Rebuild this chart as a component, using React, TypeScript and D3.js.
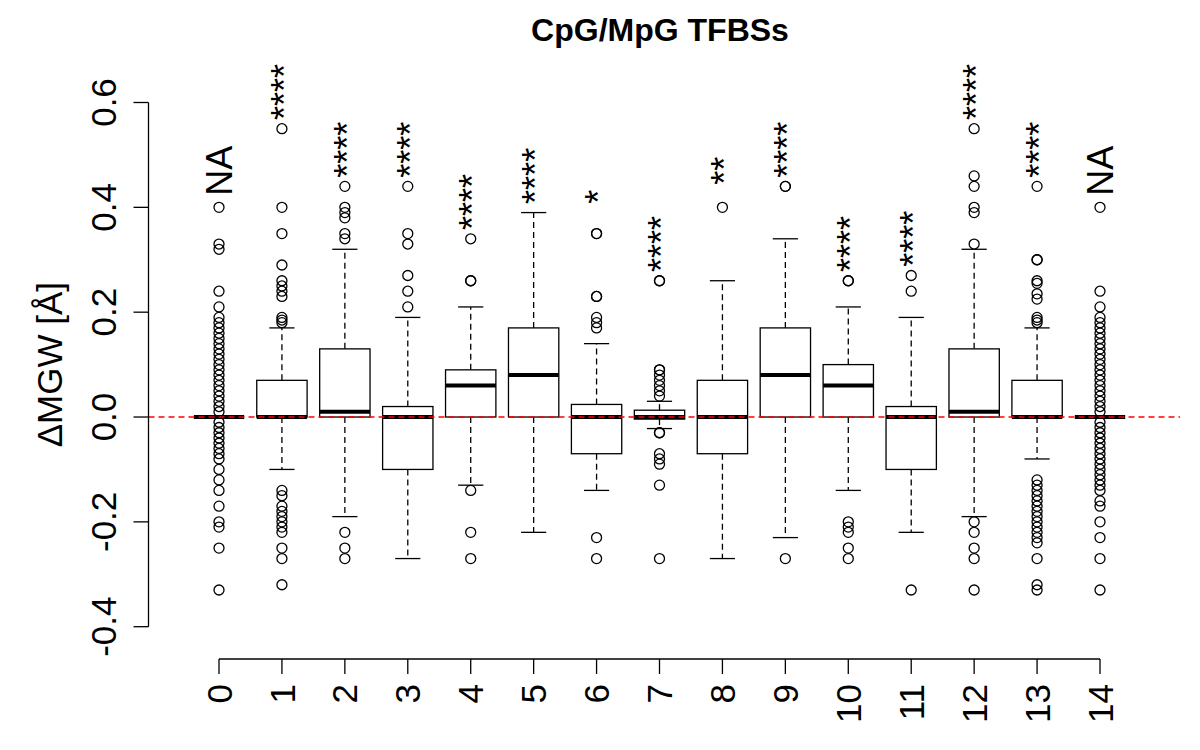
import React from "react";
import * as d3 from "d3";

const categories = ["0", "1", "2", "3", "4", "5", "6", "7", "8", "9", "10", "11", "12", "13", "14"];
const q1 = [0, 0, 0, -0.1, 0, 0, -0.07, -0.004, -0.07, 0, 0, -0.1, 0, 0, 0];
const medians = [0, 0, 0.01, 0, 0.06, 0.08, 0, 0, 0, 0.08, 0.06, 0, 0.01, 0, 0];
const q3 = [0, 0.07, 0.13, 0.02, 0.09, 0.17, 0.024, 0.013, 0.07, 0.17, 0.1, 0.02, 0.13, 0.07, 0];
const whiskerLow = [0, -0.1, -0.19, -0.27, -0.13, -0.22, -0.14, -0.022, -0.27, -0.23, -0.14, -0.22, -0.19, -0.08, 0];
const whiskerHigh = [0, 0.17, 0.32, 0.19, 0.21, 0.39, 0.14, 0.03, 0.26, 0.34, 0.21, 0.19, 0.32, 0.17, 0];

const outliers0 = [0.4, 0.33, 0.32, 0.24, 0.21, 0.19, 0.18, 0.17, 0.16, 0.15, 0.14, 0.13, 0.12, 0.11, 0.1, 0.09, 0.08, 0.07, 0.06, 0.05, 0.04, 0.03, 0.02, 0.01, -0.01, -0.02, -0.03, -0.04, -0.05, -0.06, -0.07, -0.08, -0.1, -0.12, -0.14, -0.17, -0.2, -0.21, -0.25, -0.33];
const outliers1 = [0.55, 0.4, 0.35, 0.29, 0.26, 0.25, 0.24, 0.23, 0.19, 0.185, 0.18, -0.14, -0.15, -0.17, -0.18, -0.19, -0.2, -0.21, -0.22, -0.25, -0.27, -0.32];
const outliers2 = [0.44, 0.4, 0.39, 0.38, 0.35, 0.34, -0.22, -0.25, -0.27];
const outliers3 = [0.44, 0.35, 0.33, 0.27, 0.24, 0.21];
const outliers4 = [0.34, 0.26, 0.26, -0.14, -0.22, -0.27];
const outliers5: number[] = [];
const outliers6 = [0.35, 0.35, 0.23, 0.23, 0.19, 0.18, 0.17, -0.23, -0.27];
const outliers7 = [0.26, 0.26, 0.09, 0.09, 0.08, 0.07, 0.06, 0.05, 0.04, -0.03, -0.03, -0.07, -0.08, -0.09, -0.13, -0.27];
const outliers8 = [0.4];
const outliers9 = [0.44, 0.44, -0.27];
const outliers10 = [0.26, 0.26, -0.2, -0.21, -0.22, -0.25, -0.27];
const outliers11 = [0.27, 0.24, -0.33];
const outliers12 = [0.55, 0.46, 0.44, 0.4, 0.39, 0.33, -0.2, -0.22, -0.25, -0.27, -0.33];
const outliers13 = [0.44, 0.3, 0.3, 0.26, 0.255, 0.235, 0.225, 0.19, 0.185, 0.18, -0.12, -0.13, -0.14, -0.15, -0.16, -0.17, -0.18, -0.19, -0.2, -0.21, -0.22, -0.23, -0.24, -0.27, -0.32, -0.33];
const outliers14 = [0.4, 0.24, 0.21, 0.19, 0.18, 0.17, 0.16, 0.15, 0.14, 0.13, 0.12, 0.11, 0.1, 0.09, 0.08, 0.07, 0.06, 0.05, 0.04, 0.03, 0.02, 0.01, -0.01, -0.02, -0.03, -0.04, -0.05, -0.06, -0.07, -0.08, -0.09, -0.1, -0.11, -0.12, -0.13, -0.14, -0.16, -0.17, -0.2, -0.23, -0.27, -0.33];
const outliers = [outliers0, outliers1, outliers2, outliers3, outliers4, outliers5, outliers6, outliers7, outliers8, outliers9, outliers10, outliers11, outliers12, outliers13, outliers14];

const significance = ["NA", "****", "****", "****", "****", "****", "*", "****", "**", "****", "****", "****", "****", "****", "NA"];
const yTicks = [-0.4, -0.2, 0, 0.2, 0.4, 0.6];
const yTickLabels = ["-0.4", "-0.2", "0.0", "0.2", "0.4", "0.6"];

const FONT = "'Liberation Sans', Arial, Helvetica, sans-serif";

export default function App() {
  const x = d3.scaleLinear().domain([0, 14]).range([219, 1100]);
  const y = d3.scaleLinear().domain([-0.4, 0.6]).range([626.7, 102.5]);
  const step = x(1) - x(0);
  const boxW = step * 0.8;
  const stapleW = boxW / 2;
  const axisX = 148.5;
  const xAxisY = 659;

  return (
    <svg width={1200} height={750} style={{ position: "absolute", left: 0, top: 0, background: "#fff" }} fontFamily={FONT}>
      <rect x={0} y={0} width={1200} height={750} fill="#fff" />
      <text x={660} y={41} textAnchor="middle" fontSize={32} fontWeight="bold">CpG/MpG TFBSs</text>

      {categories.map((c, i) => {
        const cx = x(i);
        const outs = outliers[i];
        return (
          <g key={c}>
            <line x1={cx} x2={cx} y1={y(q3[i])} y2={y(whiskerHigh[i])} stroke="#000" strokeWidth={1.3} strokeDasharray="6,4" />
            <line x1={cx} x2={cx} y1={y(q1[i])} y2={y(whiskerLow[i])} stroke="#000" strokeWidth={1.3} strokeDasharray="6,4" />
            <line x1={cx - stapleW / 2} x2={cx + stapleW / 2} y1={y(whiskerHigh[i])} y2={y(whiskerHigh[i])} stroke="#000" strokeWidth={1.3} />
            <line x1={cx - stapleW / 2} x2={cx + stapleW / 2} y1={y(whiskerLow[i])} y2={y(whiskerLow[i])} stroke="#000" strokeWidth={1.3} />
            <rect x={cx - boxW / 2} y={y(q3[i])} width={boxW} height={Math.max(0, y(q1[i]) - y(q3[i]))} fill="#fff" stroke="#000" strokeWidth={1.3} />
            <line x1={cx - boxW / 2} x2={cx + boxW / 2} y1={y(medians[i])} y2={y(medians[i])} stroke="#000" strokeWidth={4} />
            {outs.map((v, j) => (
              <circle key={j} cx={cx} cy={y(v)} r={5} fill="none" stroke="#000" strokeWidth={1.3} />
            ))}
          </g>
        );
      })}

      <line x1={axisX} x2={1180} y1={y(0)} y2={y(0)} stroke="#ff0000" strokeWidth={1.3} strokeDasharray="6,4" />

      {categories.map((c, i) => {
        const maxV = d3.max([whiskerHigh[i], ...outliers[i]]) as number;
        const ly = y(maxV + 0.07);
        const isStar = significance[i] !== "NA";
        return (
          <text key={"s" + c} transform={`translate(${x(i)},${ly}) rotate(-90)`} textAnchor="middle" dy={isStar ? "0.41em" : "0.36em"} fontSize={36}>
            {significance[i]}
          </text>
        );
      })}

      {/* y axis */}
      <line x1={axisX} x2={axisX} y1={y(-0.4)} y2={y(0.6)} stroke="#000" strokeWidth={1.3} />
      {yTicks.map((t, i) => (
        <g key={"yt" + i}>
          <line x1={axisX - 15} x2={axisX} y1={y(t)} y2={y(t)} stroke="#000" strokeWidth={1.3} />
          <text transform={`translate(${115.5},${y(t)}) rotate(-90)`} textAnchor="middle" fontSize={35}>{yTickLabels[i]}</text>
        </g>
      ))}
      <text transform={`translate(62,${y(0.1)}) rotate(-90)`} textAnchor="middle" fontSize={35}>ΔMGW [Å]</text>

      {/* x axis */}
      <line x1={x(0)} x2={x(14)} y1={xAxisY} y2={xAxisY} stroke="#000" strokeWidth={1.3} />
      {categories.map((c, i) => (
        <g key={"xt" + c}>
          <line x1={x(i)} x2={x(i)} y1={xAxisY} y2={xAxisY + 15} stroke="#000" strokeWidth={1.3} />
          <text transform={`translate(${x(i)},${684}) rotate(-90)`} textAnchor="end" dy="0.36em" fontSize={35}>{c}</text>
        </g>
      ))}
    </svg>
  );
}
